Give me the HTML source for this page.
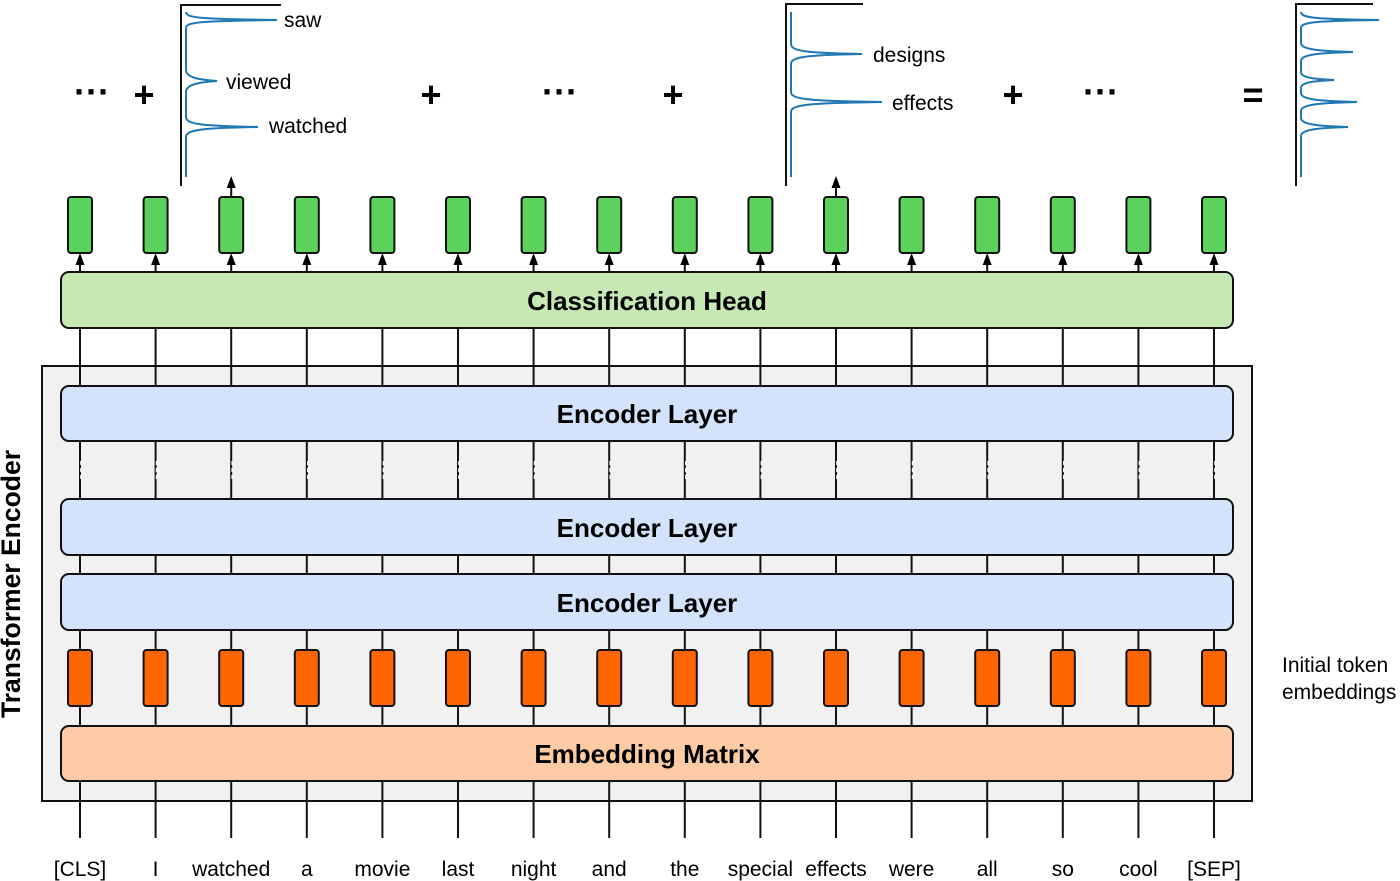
<!DOCTYPE html>
<html><head><meta charset="utf-8"><style>
html,body{margin:0;padding:0;background:#fff;}
svg{display:block;font-family:"Liberation Sans",Arial,sans-serif;}
</style></head><body>
<svg width="1400" height="881" viewBox="0 0 1400 881" xmlns="http://www.w3.org/2000/svg">
<defs>
<rect id="gb" x="-12" y="197" width="24" height="56" rx="3" fill="#5cd25c" stroke="#111" stroke-width="2"/>
<rect id="ob" x="-12" y="650" width="24" height="56" rx="3" fill="#ff6600" stroke="#111" stroke-width="2"/>
<path id="ar" d="M0,253 L-4.5,265 L4.5,265 Z" fill="#000"/>
<g id="col">
<line x1="0" y1="262" x2="0" y2="838" stroke="#111" stroke-width="2"/>
<line x1="0.8" y1="461" x2="0.8" y2="479" stroke="#fff" stroke-width="1.2" stroke-dasharray="4 3"/>
</g>
</defs>
<rect x="42" y="366" width="1210" height="435" fill="#f1f1f1" stroke="#111" stroke-width="2"/>
<g>
<use href="#col" x="80"/><use href="#col" x="155.6"/><use href="#col" x="231.2"/><use href="#col" x="306.8"/>
<use href="#col" x="382.4"/><use href="#col" x="458"/><use href="#col" x="533.6"/><use href="#col" x="609.2"/>
<use href="#col" x="684.8"/><use href="#col" x="760.4"/><use href="#col" x="836"/><use href="#col" x="911.6"/>
<use href="#col" x="987.2"/><use href="#col" x="1062.8"/><use href="#col" x="1138.4"/><use href="#col" x="1214"/>
</g>
<g>
<use href="#ar" x="80"/><use href="#ar" x="155.6"/><use href="#ar" x="231.2"/><use href="#ar" x="306.8"/>
<use href="#ar" x="382.4"/><use href="#ar" x="458"/><use href="#ar" x="533.6"/><use href="#ar" x="609.2"/>
<use href="#ar" x="684.8"/><use href="#ar" x="760.4"/><use href="#ar" x="836"/><use href="#ar" x="911.6"/>
<use href="#ar" x="987.2"/><use href="#ar" x="1062.8"/><use href="#ar" x="1138.4"/><use href="#ar" x="1214"/>
</g>
<g>
<use href="#gb" x="80"/><use href="#gb" x="155.6"/><use href="#gb" x="231.2"/><use href="#gb" x="306.8"/>
<use href="#gb" x="382.4"/><use href="#gb" x="458"/><use href="#gb" x="533.6"/><use href="#gb" x="609.2"/>
<use href="#gb" x="684.8"/><use href="#gb" x="760.4"/><use href="#gb" x="836"/><use href="#gb" x="911.6"/>
<use href="#gb" x="987.2"/><use href="#gb" x="1062.8"/><use href="#gb" x="1138.4"/><use href="#gb" x="1214"/>
</g>
<g>
<use href="#ob" x="80"/><use href="#ob" x="155.6"/><use href="#ob" x="231.2"/><use href="#ob" x="306.8"/>
<use href="#ob" x="382.4"/><use href="#ob" x="458"/><use href="#ob" x="533.6"/><use href="#ob" x="609.2"/>
<use href="#ob" x="684.8"/><use href="#ob" x="760.4"/><use href="#ob" x="836"/><use href="#ob" x="911.6"/>
<use href="#ob" x="987.2"/><use href="#ob" x="1062.8"/><use href="#ob" x="1138.4"/><use href="#ob" x="1214"/>
</g>
<line x1="231.2" y1="197" x2="231.2" y2="183" stroke="#111" stroke-width="2"/>
<path d="M231.2,176 L226.7,188 L235.7,188 Z"/>
<line x1="836" y1="197" x2="836" y2="183" stroke="#111" stroke-width="2"/>
<path d="M836,176 L831.5,188 L840.5,188 Z"/>
<rect x="61" y="272" width="1172" height="56" rx="8" fill="#c6e9b3" stroke="#111" stroke-width="2"/>
<text x="647" y="310" text-anchor="middle" font-size="26" font-weight="bold">Classification Head</text>
<rect x="61" y="386" width="1172" height="55" rx="8" fill="#d4e3fc" stroke="#111" stroke-width="2"/>
<text x="647" y="423" text-anchor="middle" font-size="26" font-weight="bold">Encoder Layer</text>
<rect x="61" y="499" width="1172" height="56" rx="8" fill="#d4e3fc" stroke="#111" stroke-width="2"/>
<text x="647" y="537" text-anchor="middle" font-size="26" font-weight="bold">Encoder Layer</text>
<rect x="61" y="574" width="1172" height="56" rx="8" fill="#d4e3fc" stroke="#111" stroke-width="2"/>
<text x="647" y="612" text-anchor="middle" font-size="26" font-weight="bold">Encoder Layer</text>
<rect x="61" y="726" width="1172" height="55" rx="8" fill="#fdcca7" stroke="#111" stroke-width="2"/>
<text x="647" y="763" text-anchor="middle" font-size="26" font-weight="bold">Embedding Matrix</text>
<text transform="translate(20,584) rotate(-90)" text-anchor="middle" font-size="26.5" font-weight="bold">Transformer Encoder</text>
<text x="1282" y="672" font-size="21">Initial token</text>
<text x="1282" y="699" font-size="21">embeddings</text>
<g font-size="21" text-anchor="middle">
<text x="80" y="876">[CLS]</text><text x="155.6" y="876">I</text><text x="231.2" y="876">watched</text><text x="306.8" y="876">a</text>
<text x="382.4" y="876">movie</text><text x="458" y="876">last</text><text x="533.6" y="876">night</text><text x="609.2" y="876">and</text>
<text x="684.8" y="876">the</text><text x="760.4" y="876">special</text><text x="836" y="876">effects</text><text x="911.6" y="876">were</text>
<text x="987.2" y="876">all</text><text x="1062.8" y="876">so</text><text x="1138.4" y="876">cool</text><text x="1214" y="876">[SEP]</text>
</g>
<g font-size="36" font-weight="bold" text-anchor="middle">
<text x="92" y="104">···</text><text x="144" y="107">+</text><text x="431" y="107">+</text><text x="560" y="104">···</text>
<text x="673" y="107">+</text><text x="1013" y="107">+</text><text x="1101" y="104">···</text><text x="1253" y="107">=</text>
</g>
<g fill="none" stroke="#111" stroke-width="2">
<path d="M181,186 L181,5 L281,5"/>
<path d="M786,186 L786,4 L863,4"/>
<path d="M1296,186 L1296,4 L1373,4"/>
</g>
<g fill="none" stroke="#1f77b4" stroke-width="2">
<path d="M186,12 C186,18 200,19 277,20 C200,21 186,22 186,28 L186,70 C186,79 205,80 217,81 C205,82 186,83 186,92 L186,117 C186,124 200,126 258,127 C200,128 186,130 186,137 L186,177"/>
<path d="M791,12 L791,44 C791,51 805,53 862,54 C805,55 791,57 791,64 L791,92 C791,99 805,101 882,102 C805,103 791,105 791,112 L791,177"/>
<path d="M1301,12 C1301,18 1315,19 1379,20 C1315,21 1301,22 1301,28 L1301,43 C1301,49 1315,51 1353,52 C1315,53 1301,55 1301,61 L1301,72 C1301,78 1315,79 1334,80 C1315,81 1301,82 1301,88 L1301,93 C1301,99 1315,101 1357,102 C1315,103 1301,105 1301,111 L1301,118 C1301,124 1315,126 1348,127 C1315,128 1301,130 1301,136 L1301,177"/>
</g>
<g font-size="21">
<text x="284" y="27">saw</text><text x="226" y="89">viewed</text><text x="269" y="133">watched</text>
<text x="873" y="62">designs</text><text x="892" y="110">effects</text>
</g>
</svg>
</body></html>
